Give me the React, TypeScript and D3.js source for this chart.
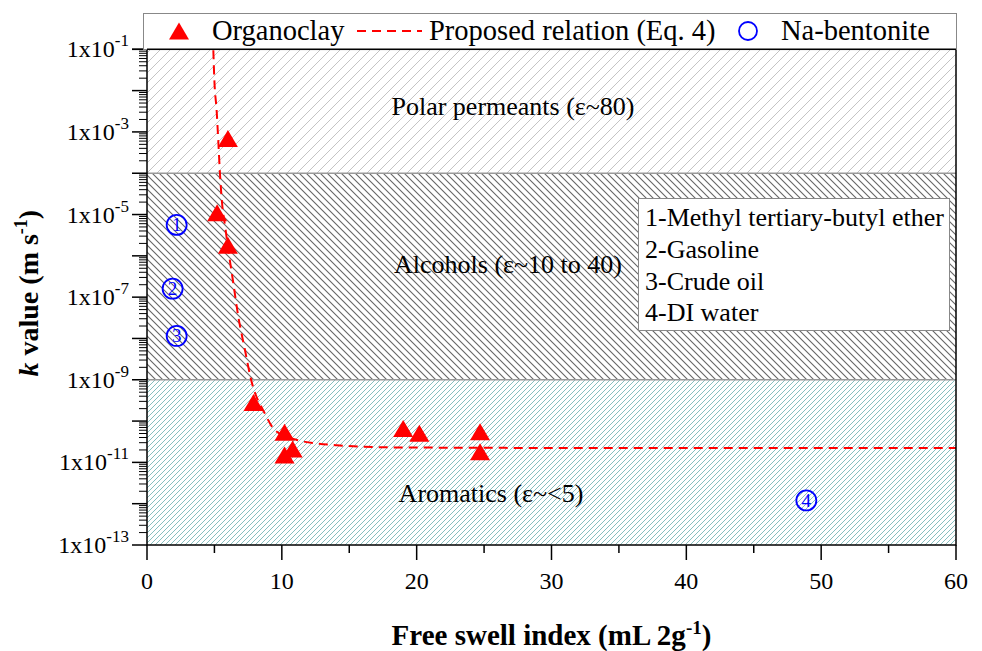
import React from 'react';
import * as d3 from 'd3';

// Canvas and plot frame
const W = 982;
const H = 651;
const PLOT = { left: 147, right: 956, top: 49.3, bottom: 545 };
const FONT = '"Liberation Serif", "Times New Roman", Times, serif';

// Organoclay measurements: free swell index vs hydraulic conductivity
const organoFSI = [6.0, 5.2, 6.0, 7.9, 10.2, 10.8, 10.2, 19.0, 20.2, 24.7, 24.7];
const organoK = [6.9e-4, 1.1e-5, 1.8e-6, 2.8e-10, 5.4e-11, 2.1e-11, 1.5e-11, 6.6e-11, 5.1e-11, 5.5e-11, 1.8e-11];

// Proposed relation (Eq. 4)
const relationFSI = [4.92, 4.99, 5.17, 5.29, 5.41, 5.58, 5.78, 6.03, 6.4, 6.77, 7.27, 7.69, 8.75, 9.49, 11.1, 14.07, 18.76, 30, 45, 60];
const relationK = [9.5e-2, 2.0e-2, 3.1e-3, 5.8e-4, 1.0e-4, 1.7e-5, 5.6e-6, 1.4e-6, 2.2e-7, 3.4e-8, 5.2e-9, 1.1e-9, 1.5e-10, 6.0e-11, 3.5e-11, 2.6e-11, 2.3e-11, 2.24e-11, 2.24e-11, 2.24e-11];

// Na-bentonite measurements, numbered by permeant
const bentoniteFSI = [2.2, 1.9, 2.2, 48.9];
const bentoniteK = [5.6e-6, 1.6e-7, 1.15e-8, 1.2e-12];
const bentoniteIds = ['1', '2', '3', '4'];

// Permeant bands by dielectric constant
const regionNames = ['Polar permeants (ε~80)', 'Alcohols (ε~10 to 40)', 'Aromatics (ε~<5)'];
const regionUpper = [1e-1, 1e-4, 1e-9];
const regionLower = [1e-4, 1e-9, 1e-13];
const fluidNames = ['1-Methyl tertiary-butyl ether', '2-Gasoline', '3-Crude oil', '4-DI water'];

// Axes
const xTicks = [0, 10, 20, 30, 40, 50, 60];
const xMinorTicks = [5, 15, 25, 35, 45, 55];
const yLabelExps = [-1, -3, -5, -7, -9, -11, -13];
const legendLabels = ['Organoclay', 'Proposed relation (Eq. 4)', 'Na-bentonite'];

const RED = '#ff0000';
const BLUE = '#0000ff';

const x = d3.scaleLinear().domain([0, 60]).range([PLOT.left, PLOT.right]);
const y = d3.scaleLog().domain([1e-13, 1e-1]).range([PLOT.bottom, PLOT.top]);

function triangle(cx: number, cy: number) {
  return `M${cx},${cy - 8.5}L${cx + 10},${cy + 8.5}L${cx - 10},${cy + 8.5}Z`;
}

function hatch(size: number, forward: boolean) {
  const s = size;
  return forward
    ? `M-1,1 l2,-2 M0,${s} l${s},${-s} M${s - 1},${s + 1} l2,-2`
    : `M-1,${s - 1} l2,2 M0,0 l${s},${s} M${s - 1},-1 l2,2`;
}

export default function App() {
  const relationLine = d3
    .line<number>()
    .x((_, i) => x(relationFSI[i]))
    .y((_, i) => y(relationK[i]))
    .curve(d3.curveMonotoneX)(relationFSI) as string;

  const patternIds = ['hatchPolar', 'hatchAlcohol', 'hatchAromatic'];
  const labelPos = [
    { cx: 513, by: 115 },
    { cx: 508, by: 273 },
    { cx: 491, by: 502 },
  ];

  // log minor ticks for each decade
  const yMajor = d3.range(-13, 0).map((e) => Math.pow(10, e));
  const yMinor: number[] = [];
  for (let e = -13; e < -1; e++) {
    for (let m = 2; m <= 9; m++) yMinor.push(m * Math.pow(10, e));
  }

  return (
    <svg width={W} height={H} style={{ position: 'absolute', left: 0, top: 0, background: '#fff' }} fontFamily={FONT}>
      <defs>
        <pattern id="hatchPolar" patternUnits="userSpaceOnUse" width={10} height={10}>
          <rect width={10} height={10} fill="#fff" />
          <path d={hatch(10, true)} stroke="#c4c4c4" strokeWidth={1} />
        </pattern>
        <pattern id="hatchAlcohol" patternUnits="userSpaceOnUse" width={7} height={7}>
          <rect width={7} height={7} fill="#fff" />
          <path d={hatch(7, false)} stroke="#666" strokeWidth={1.1} />
        </pattern>
        <pattern id="hatchAromatic" patternUnits="userSpaceOnUse" width={5} height={5}>
          <rect width={5} height={5} fill="#fff" />
          <path d={hatch(5, true)} stroke="#86bfbf" strokeWidth={1} />
        </pattern>
        <clipPath id="plotClip">
          <rect x={PLOT.left} y={PLOT.top} width={PLOT.right - PLOT.left} height={PLOT.bottom - PLOT.top} />
        </clipPath>
      </defs>

      {/* permeant bands */}
      {regionNames.map((name, i) => (
        <g key={name}>
          <rect
            x={PLOT.left}
            y={y(regionUpper[i])}
            width={PLOT.right - PLOT.left}
            height={y(regionLower[i]) - y(regionUpper[i])}
            fill={`url(#${patternIds[i]})`}
          />
          <text x={labelPos[i].cx} y={labelPos[i].by} fontSize={26} textAnchor="middle" fill="#000">
            {name}
          </text>
        </g>
      ))}
      {[1e-4, 1e-9].map((v) => (
        <line key={v} x1={PLOT.left} x2={PLOT.right} y1={y(v)} y2={y(v)} stroke="#999" strokeWidth={1.5} />
      ))}

      {/* fluid key */}
      <rect x={638.5} y={198.5} width={311} height={132} fill="#fff" stroke="#888" strokeWidth={1} />
      {fluidNames.map((n, i) => (
        <text key={n} x={645} y={226 + i * 31.8} fontSize={26} fill="#000">
          {n}
        </text>
      ))}

      {/* proposed relation */}
      <g clipPath="url(#plotClip)">
        <path d={relationLine} fill="none" stroke={RED} strokeWidth={2} strokeDasharray="9,6" />
      </g>

      {/* organoclay points */}
      {organoFSI.map((f, i) => (
        <path key={i} d={triangle(x(f), y(organoK[i]))} fill={RED} />
      ))}

      {/* Na-bentonite points */}
      {bentoniteFSI.map((f, i) => (
        <g key={i}>
          <circle cx={x(f)} cy={y(bentoniteK[i])} r={10} fill="none" stroke={BLUE} strokeWidth={1.8} />
          <text x={x(f)} y={y(bentoniteK[i]) + 6.5} fontSize={19} textAnchor="middle" fill={BLUE}>
            {bentoniteIds[i]}
          </text>
        </g>
      ))}

      {/* frame */}
      <rect
        x={PLOT.left}
        y={PLOT.top}
        width={PLOT.right - PLOT.left}
        height={PLOT.bottom - PLOT.top}
        fill="none"
        stroke="#000"
        strokeWidth={1.5}
      />

      {/* x axis */}
      {xTicks.map((t) => (
        <g key={t}>
          <line x1={x(t)} x2={x(t)} y1={PLOT.bottom} y2={PLOT.bottom + 15} stroke="#000" strokeWidth={1.5} />
          <text x={x(t)} y={589} fontSize={24} textAnchor="middle" fill="#000">
            {t}
          </text>
        </g>
      ))}
      {xMinorTicks.map((t) => (
        <line key={t} x1={x(t)} x2={x(t)} y1={PLOT.bottom} y2={PLOT.bottom + 8} stroke="#000" strokeWidth={1.5} />
      ))}
      <text x={(PLOT.left + PLOT.right) / 2} y={645} fontSize={29} fontWeight="bold" textAnchor="middle" fill="#000">
        Free swell index (mL 2g
        <tspan dy={-11} fontSize={19}>-1</tspan>
        <tspan dy={11}>)</tspan>
      </text>

      {/* y axis */}
      {yMajor.concat([1e-1]).map((v) => (
        <line key={v} x1={PLOT.left - 15} x2={PLOT.left} y1={y(v)} y2={y(v)} stroke="#000" strokeWidth={1.5} />
      ))}
      {yMinor.map((v) => (
        <line key={v} x1={PLOT.left - 8} x2={PLOT.left} y1={y(v)} y2={y(v)} stroke="#000" strokeWidth={1} />
      ))}
      {yLabelExps.map((e) => (
        <text key={e} x={129} y={y(Math.pow(10, e)) + 8} fontSize={24} textAnchor="end" fill="#000">
          1x10
          <tspan dy={-11} fontSize={17}>{String(e)}</tspan>
        </text>
      ))}
      <text
        transform={`translate(38,${(PLOT.top + PLOT.bottom) / 2 - 4}) rotate(-90)`}
        fontSize={28}
        fontWeight="bold"
        textAnchor="middle"
        fill="#000"
      >
        <tspan fontStyle="italic">k</tspan> value (m s
        <tspan dy={-11} fontSize={18}>-1</tspan>
        <tspan dy={11}>)</tspan>
      </text>

      {/* series legend */}
      <rect x={143.5} y={13.5} width={813} height={36} fill="#fff" stroke="#888" strokeWidth={1} />
      <line x1={PLOT.left} x2={PLOT.right} y1={PLOT.top} y2={PLOT.top} stroke="#000" strokeWidth={1.5} />
      <path d={triangle(179, 31)} fill={RED} />
      <text x={212} y={40} fontSize={28.5} fill="#000">
        {legendLabels[0]}
      </text>
      <line x1={357} x2={422} y1={31} y2={31} stroke={RED} strokeWidth={2} strokeDasharray="9,6" />
      <text x={429} y={40} fontSize={28.5} fill="#000">
        {legendLabels[1]}
      </text>
      <circle cx={748} cy={31} r={9} fill="none" stroke={BLUE} strokeWidth={1.8} />
      <text x={781} y={40} fontSize={28.5} fill="#000">
        {legendLabels[2]}
      </text>
    </svg>
  );
}
